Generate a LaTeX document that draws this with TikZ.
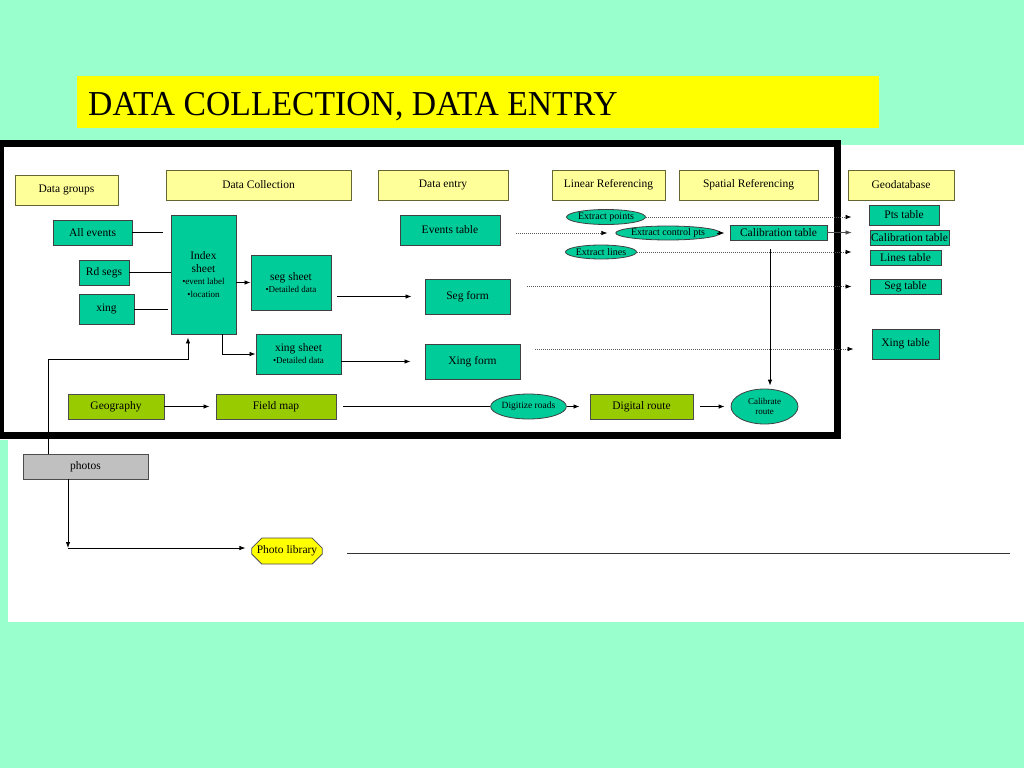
\documentclass[tikz,border=0pt]{standalone}
\usepackage{fontspec}
\setmainfont{Liberation Serif}
\usetikzlibrary{arrows.meta,shapes.geometric,shapes.misc}
\definecolor{bg}{RGB}{153,255,204}
\definecolor{tealbox}{RGB}{0,204,153}
\definecolor{hdr}{RGB}{255,255,153}
\definecolor{grn}{RGB}{153,204,0}
\definecolor{gry}{RGB}{192,192,192}
\definecolor{ttl}{RGB}{255,255,0}
\definecolor{hdrline}{RGB}{102,102,51}
\begin{document}
\begin{tikzpicture}[x=1pt,y=-1pt,
  base/.style={inner sep=0pt, align=center, font=\fontsize{11.5}{13}\selectfont},
  hdrbox/.style={base, rectangle, fill=hdr, draw=hdrline, line width=0.9pt},
  tbox/.style={base, rectangle, fill=tealbox, draw=black!75, line width=0.9pt},
  gbox/.style={base, rectangle, fill=grn, draw=black!70, line width=0.9pt},
  ybox/.style={base, rectangle, fill=gry, draw=black!70, line width=0.9pt},
  ell/.style={base, ellipse, fill=tealbox, draw=black!75, line width=0.8pt, font=\fontsize{10}{11}\selectfont},
  small/.style={font=\fontsize{9}{10.5}\selectfont},
  conn/.style={draw=black, line width=0.8pt},
  arr/.style={conn, -{Latex[length=6pt,width=4.5pt]}},
  dot/.style={draw=black!65, line width=0.7pt, dash pattern=on 1pt off 1pt},
  dotarr/.style={dot, -{Latex[length=6pt,width=4.5pt,black]}}
]
\useasboundingbox (0,0) rectangle (1024,768);
\fill[bg] (0,0) rectangle (1024,768);
\fill[white] (8,145) rectangle (1024,622);
\fill[white] (0,140) rectangle (841,440);
\draw[line width=7pt] (0.5,143.5) rectangle (837,435);

% title
\node[fill=ttl, minimum width=802, minimum height=52, inner sep=0pt] (titlebox) at (478,102) {};
\node[anchor=base west, inner sep=0pt, font=\fontsize{35}{40}\selectfont] (title) at (88,115) {\scalebox{0.962}[1]{DATA COLLECTION, DATA ENTRY}};

% headers
\node[hdrbox, minimum width=103, minimum height=30] (hgroups) at (66.5,190) {Data groups};
\node[hdrbox, minimum width=185, minimum height=30] (hcoll) at (258.5,185) {Data Collection};
\node[hdrbox, minimum width=130, minimum height=30] (hentry) at (443,185) {Data entry};
\node[hdrbox, minimum width=113, minimum height=30] (hlin) at (608.5,185) {Linear Referencing};
\node[hdrbox, minimum width=139, minimum height=30] (hspat) at (748.5,185) {Spatial Referencing};
\node[hdrbox, minimum width=106, minimum height=30] (hgeo) at (901,185) {Geodatabase};

% data groups
\node[tbox, minimum width=79, minimum height=25] (allev) at (92.5,232.5) {All events};
\node[tbox, minimum width=50, minimum height=25] (rdsegs) at (104,272.5) {Rd segs};
\node[tbox, minimum width=55, minimum height=30] (xing) at (106.5,309) {xing};

% data collection
\node[tbox, minimum width=65, minimum height=119] (index) at (203.5,274.5) {Index\\sheet\\[-1pt]{\fontsize{9}{10.5}\selectfont •event label}\\{\fontsize{9}{10.5}\selectfont •location}};
\node[tbox, minimum width=80, minimum height=55] (segsheet) at (291,282.5) {seg sheet\\[-1pt]{\fontsize{9}{10.5}\selectfont •Detailed data}};
\node[tbox, minimum width=85, minimum height=40] (xingsheet) at (298.5,354) {xing sheet\\[-1pt]{\fontsize{9}{10.5}\selectfont •Detailed data}};

% data entry
\node[tbox, minimum width=100, minimum height=30] (evt) at (450,230) {Events table};
\node[tbox, minimum width=85, minimum height=35] (segform) at (467.5,296.5) {Seg form};
\node[tbox, minimum width=95, minimum height=35] (xingform) at (472.5,361.5) {Xing form};

% linear referencing
\node[ell, minimum width=74, minimum height=15] (exp) at (606,217) {Extract points};
\node[ell, minimum width=85, minimum height=14] (exc) at (668,233) {Extract control pts};
\node[ell, minimum width=71, minimum height=14] (exl) at (601,252) {Extract lines};

% spatial referencing
\node[tbox, minimum width=97, minimum height=15] (caltab) at (778.5,232.5) {Calibration table};

% geodatabase
\node[tbox, minimum width=70, minimum height=20] (pts) at (904,215) {Pts table};
\node[tbox, minimum width=79, minimum height=15] (gcal) at (909.5,237.5) {Calibration table};
\node[tbox, minimum width=71, minimum height=15] (lines) at (905.5,257.5) {Lines table};
\node[tbox, minimum width=71, minimum height=15] (segtab) at (905.5,286.5) {Seg table};
\node[tbox, minimum width=67, minimum height=30] (xingtab) at (905.5,344) {Xing table};

% bottom row
\node[gbox, minimum width=96, minimum height=25] (geog) at (116,406.5) {Geography};
\node[gbox, minimum width=120, minimum height=25] (fmap) at (276,406.5) {Field map};
\node[ell, minimum width=75, minimum height=25, font=\fontsize{9.5}{11}\selectfont] (dig) at (528.5,406.5) {Digitize roads};
\node[gbox, minimum width=103, minimum height=25] (droute) at (641.5,406.5) {Digital route};
\node[ell, minimum width=67, minimum height=35, small] (calr) at (764.5,406.5) {Calibrate\\route};

\node[ybox, minimum width=125, minimum height=25] (photos) at (85.5,466.5) {photos};
\node[base, chamfered rectangle, chamfered rectangle xsep=5pt, chamfered rectangle ysep=5pt, fill=ttl, draw=black!70, line width=0.8pt, minimum width=70, minimum height=26] (plib) at (287,551) {Photo library};

% free ends
\coordinate (aeEnd) at (163,232.5);
\coordinate (xgEnd) at (168,309);
\coordinate (pc) at (68,548);
\coordinate (lnA) at (347,553);
\coordinate (lnB) at (1010,553);

% connectors
\draw[conn] (allev.east) -- (aeEnd);
\draw[conn] (rdsegs.east) -- (rdsegs.east -| index.west);
\draw[conn] (xing.east) -- (xgEnd);
\draw[arr] (index.east |- segsheet.west) -- (segsheet.west);
\draw[arr] ([xshift=18.5pt]index.south) |- (xingsheet.west);
\draw[arr, shorten <=6pt, shorten >=13pt] (segsheet.east |- segform.west) -- (segform.west);
\draw[arr, shorten >=14pt] (xingsheet.east |- xingform.west) -- (xingform.west);

\draw[dotarr, shorten <=16pt, shorten >=8pt] (evt.east |- exc.west) -- (exc.west);
\draw[arr, shorten <=4pt, shorten >=5pt] (exc.east) -- (exc.east -| caltab.west);
\draw[dotarr, shorten >=17pt] (exp.east) -- (exp.east -| pts.west);
\draw[arr, line width=0.6pt, draw=black!70, shorten >=18pt] (caltab.east) -- (caltab.east -| gcal.west);
\draw[dotarr, shorten >=18pt] (exl.east) -- (exl.east -| lines.west);
\draw[dotarr, shorten <=17pt, shorten >=18pt] (segform.east |- segtab.west) -- (segtab.west);
\draw[dotarr, shorten <=15pt, shorten >=18pt] ([yshift=-5pt]xingtab.west -| xingform.east) -- ([yshift=-5pt]xingtab.west);
\draw[arr, shorten <=9pt, shorten >=3pt] ([xshift=-8.5pt]caltab.south) -- ([xshift=-8.5pt]caltab.south |- calr.north);

\draw[arr, shorten >=6pt] (geog.east) -- (fmap.west);
\draw[conn, shorten <=7pt] (fmap.east) -- (dig.west);
\draw[arr, shorten >=10pt] (dig.east) -- (droute.west);
\draw[arr, shorten <=7pt, shorten >=6pt] (droute.east) -- (calr.west);

\draw[arr, shorten >=3pt] ([xshift=-37pt]photos.north) |- ([xshift=-15.5pt,yshift=-25pt]index.south) -- ([xshift=-15.5pt]index.south);
\draw[arr] ([xshift=-17.5pt]photos.south) -- (pc);
\draw[arr, shorten >=6pt] (pc) -- (pc -| plib.west);
\draw[conn, line width=0.9pt, draw=black!80] (lnA) -- (lnB);
\end{tikzpicture}
\end{document}
